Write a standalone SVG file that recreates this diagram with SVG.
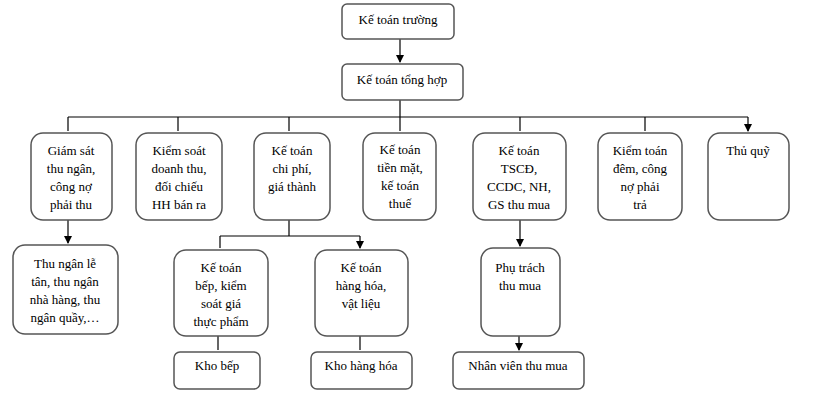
<svg xmlns="http://www.w3.org/2000/svg" width="814" height="413" viewBox="0 0 814 413">
<style>
.b{fill:#fff;stroke:#555;stroke-width:1.5}
text{font-family:"Liberation Serif",serif;font-size:13px;fill:#000;text-anchor:middle}
.c{stroke:#000;stroke-width:1.2;fill:none}
</style>
<defs><marker id="a" markerWidth="8" markerHeight="8" refX="7" refY="4" orient="auto" markerUnits="userSpaceOnUse"><path d="M0,0L8,4L0,8z" fill="#000"/></marker></defs>
<rect width="814" height="413" fill="#fff"/>
<g id="connectors" class="c">
<path d="M400 39V62" marker-end="url(#a)"/>
<path d="M400 100V117M68 117H748"/>
<path d="M68 117V131M178 117V131M289 117V131M400 117V131M520 117V131M645 117V131M748 117V131" marker-end="url(#a)"/>
<path d="M68 220V243" marker-end="url(#a)"/>
<path d="M289 220V236M220 236H360"/>
<path d="M220 236V248M360 236V248" marker-end="url(#a)"/>
<path d="M520 220V246" marker-end="url(#a)"/>
<path d="M218 336V350M360 336V350M519 336V350" marker-end="url(#a)"/>
</g>
<g id="n1"><rect class="b" x="342" y="4" width="112" height="35" rx="5"/><text x="398" y="24">Kế toán trường</text></g>
<g id="n2"><rect class="b" x="342" y="64" width="121" height="36" rx="5"/><text x="402" y="84">Kế toán tổng hợp</text></g>
<g id="n3"><rect class="b" x="31" y="133" width="81" height="87" rx="12"/><text x="71" y="155">Giám sát</text><text x="71" y="173">thu ngân,</text><text x="71" y="191">công nợ</text><text x="71" y="209">phải thu</text></g>
<g id="n4"><rect class="b" x="136" y="133" width="86" height="87" rx="12"/><text x="179" y="155">Kiểm soát</text><text x="179" y="173">doanh thu,</text><text x="179" y="191">đối chiếu</text><text x="179" y="209">HH bán ra</text></g>
<g id="n5"><rect class="b" x="254" y="133" width="76" height="87" rx="12"/><text x="292" y="155">Kế toán</text><text x="292" y="173">chi phí,</text><text x="292" y="191">giá thành</text></g>
<g id="n6"><rect class="b" x="363" y="133" width="73" height="87" rx="12"/><text x="400" y="154">Kế toán</text><text x="400" y="172">tiền mặt,</text><text x="400" y="190">kế toán</text><text x="400" y="208">thuế</text></g>
<g id="n7"><rect class="b" x="473" y="133" width="93" height="87" rx="12"/><text x="519" y="155">Kế toán</text><text x="519" y="173">TSCĐ,</text><text x="519" y="191">CCDC, NH,</text><text x="519" y="209">GS thu mua</text></g>
<g id="n8"><rect class="b" x="598" y="133" width="84" height="87" rx="12"/><text x="640" y="155">Kiểm toán</text><text x="640" y="173">đêm, công</text><text x="640" y="191">nợ phải</text><text x="640" y="209">trả</text></g>
<g id="n9"><rect class="b" x="708" y="133" width="81" height="87" rx="12"/><text x="748" y="155">Thủ quỹ</text></g>
<g id="n10"><rect class="b" x="13" y="245" width="105" height="89" rx="12"/><text x="65" y="268">Thu ngân lễ</text><text x="65" y="286">tân, thu ngân</text><text x="65" y="304">nhà hàng, thu</text><text x="65" y="322">ngân quầy,…</text></g>
<g id="n11"><rect class="b" x="174" y="250" width="94" height="86" rx="12"/><text x="221" y="272">Kế toán</text><text x="221" y="290">bếp, kiểm</text><text x="221" y="308">soát giá</text><text x="221" y="326">thực phẩm</text></g>
<g id="n12"><rect class="b" x="315" y="250" width="93" height="86" rx="12"/><text x="361" y="272">Kế toán</text><text x="361" y="290">hàng hóa,</text><text x="361" y="308">vật liệu</text></g>
<g id="n13"><rect class="b" x="481" y="248" width="79" height="88" rx="12"/><text x="520" y="272">Phụ trách</text><text x="520" y="290">thu mua</text></g>
<g id="n14"><rect class="b" x="174" y="352" width="86" height="37" rx="6"/><text x="217" y="370">Kho bếp</text></g>
<g id="n15"><rect class="b" x="311" y="352" width="101" height="37" rx="6"/><text x="361" y="370">Kho hàng hóa</text></g>
<g id="n16"><rect class="b" x="453" y="352" width="131" height="37" rx="6"/><text x="518" y="370">Nhân viên thu mua</text></g>
</svg>
